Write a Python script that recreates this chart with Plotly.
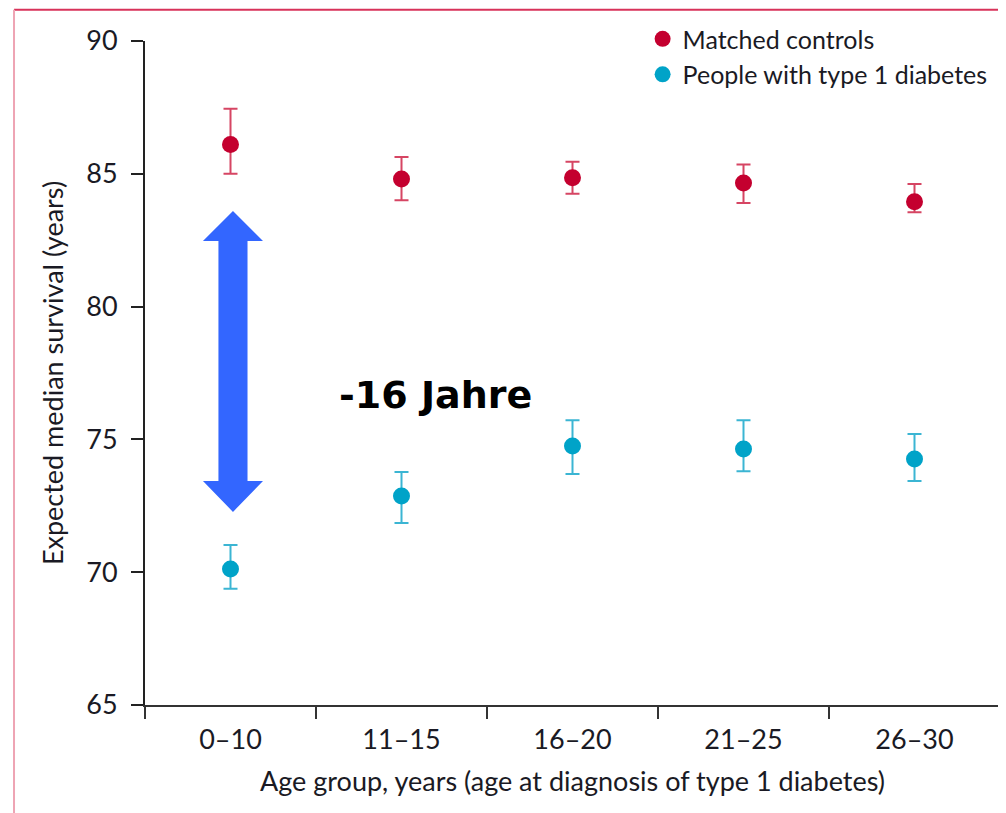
import plotly.graph_objects as go

categories = ["0–10", "11–15", "16–20", "21–25", "26–30"]

controls = [86.1, 84.8, 84.85, 84.65, 83.95]
controls_hi = [87.45, 85.63, 85.45, 85.35, 84.62]
controls_lo = [85.0, 84.0, 84.25, 83.9, 83.55]

t1d = [70.12, 72.87, 74.75, 74.64, 74.26]
t1d_hi = [71.02, 73.77, 75.72, 75.72, 75.2]
t1d_lo = [69.38, 71.85, 73.7, 73.8, 73.43]

y_ticks = [65, 70, 75, 80, 85, 90]

RED = "#c4002f"
RED_ERR = "#d64563"
BLUE = "#00a3c8"
BLUE_ERR = "#3bb5d3"
ARROW = "#3366ff"
FONT = "Lato"

fig = go.Figure()


def add_series(name, vals, hi, lo, color, ecolor):
    fig.add_trace(go.Scatter(
        x=categories, y=vals, mode="markers", name=name,
        marker=dict(color=color, size=17),
        error_y=dict(type="data", symmetric=False,
                     array=[h - v for h, v in zip(hi, vals)],
                     arrayminus=[v - l for v, l in zip(vals, lo)],
                     color=ecolor, thickness=2, width=7),
    ))


add_series("Matched controls", controls, controls_hi, controls_lo, RED, RED_ERR)
add_series("People with type 1 diabetes", t1d, t1d_hi, t1d_lo, BLUE, BLUE_ERR)

# double-headed arrow (paper x, data y)
ax_c, ax_s, ax_h = 0.1029, 0.0170, 0.0351
y_top, y_hb1, y_hb2, y_bot = 83.60, 82.47, 73.43, 72.27
path = (f"M {ax_c},{y_top} L {ax_c+ax_h},{y_hb1} L {ax_c+ax_s},{y_hb1} "
        f"L {ax_c+ax_s},{y_hb2} L {ax_c+ax_h},{y_hb2} L {ax_c},{y_bot} "
        f"L {ax_c-ax_h},{y_hb2} L {ax_c-ax_s},{y_hb2} L {ax_c-ax_s},{y_hb1} "
        f"L {ax_c-ax_h},{y_hb1} Z")
fig.add_shape(type="path", path=path, xref="paper", yref="y",
              fillcolor=ARROW, line=dict(width=0))

fig.add_annotation(text="<b>-16 Jahre</b>", xref="paper", yref="y",
                   x=0.340, y=76.67, showarrow=False,
                   font=dict(family="DejaVu Sans", size=38, color="black"))

# outer border (pink-red)
fig.add_shape(type="line", xref="paper", yref="paper",
              x0=-0.1532, x1=1.02, y0=1.047, y1=1.047,
              line=dict(color="#d8325a", width=2))
fig.add_shape(type="line", xref="paper", yref="paper",
              x0=-0.1532, x1=-0.1532, y0=1.047, y1=-0.17,
              line=dict(color="#eea4b4", width=2))

fig.update_layout(
    width=998, height=805,
    margin=dict(l=137, r=6, t=33, b=108, autoexpand=False),
    paper_bgcolor="white", plot_bgcolor="white",
    font=dict(family=FONT, size=26, color="#1a1a24"),
    showlegend=True,
    legend=dict(x=0.582, y=1.0375, xanchor="left", yanchor="top",
                bgcolor="rgba(0,0,0,0)", font=dict(size=25),
                itemwidth=30, tracegroupgap=0),
)
fig.update_xaxes(
    type="category", range=[-0.5, 4.5], tickson="boundaries",
    showline=True, linecolor="#333", linewidth=2,
    ticks="outside", ticklen=12, tickwidth=2, tickcolor="#333",
    showgrid=False, zeroline=False, tickfont=dict(size=27),
    ticklabelstandoff=10,
    title=dict(text="Age group, years (age at diagnosis of type 1 diabetes)",
               font=dict(size=27), standoff=18),
)
fig.update_yaxes(
    range=[65, 90], tickvals=y_ticks,
    showline=True, linecolor="#222", linewidth=2,
    ticks="outside", ticklen=12, tickwidth=2, tickcolor="#222",
    showgrid=False, zeroline=False, tickfont=dict(size=27),
    ticklabelstandoff=8,
    title=dict(text="Expected median survival (years)",
               font=dict(size=27), standoff=15),
)

fig.write_html("out.html")
